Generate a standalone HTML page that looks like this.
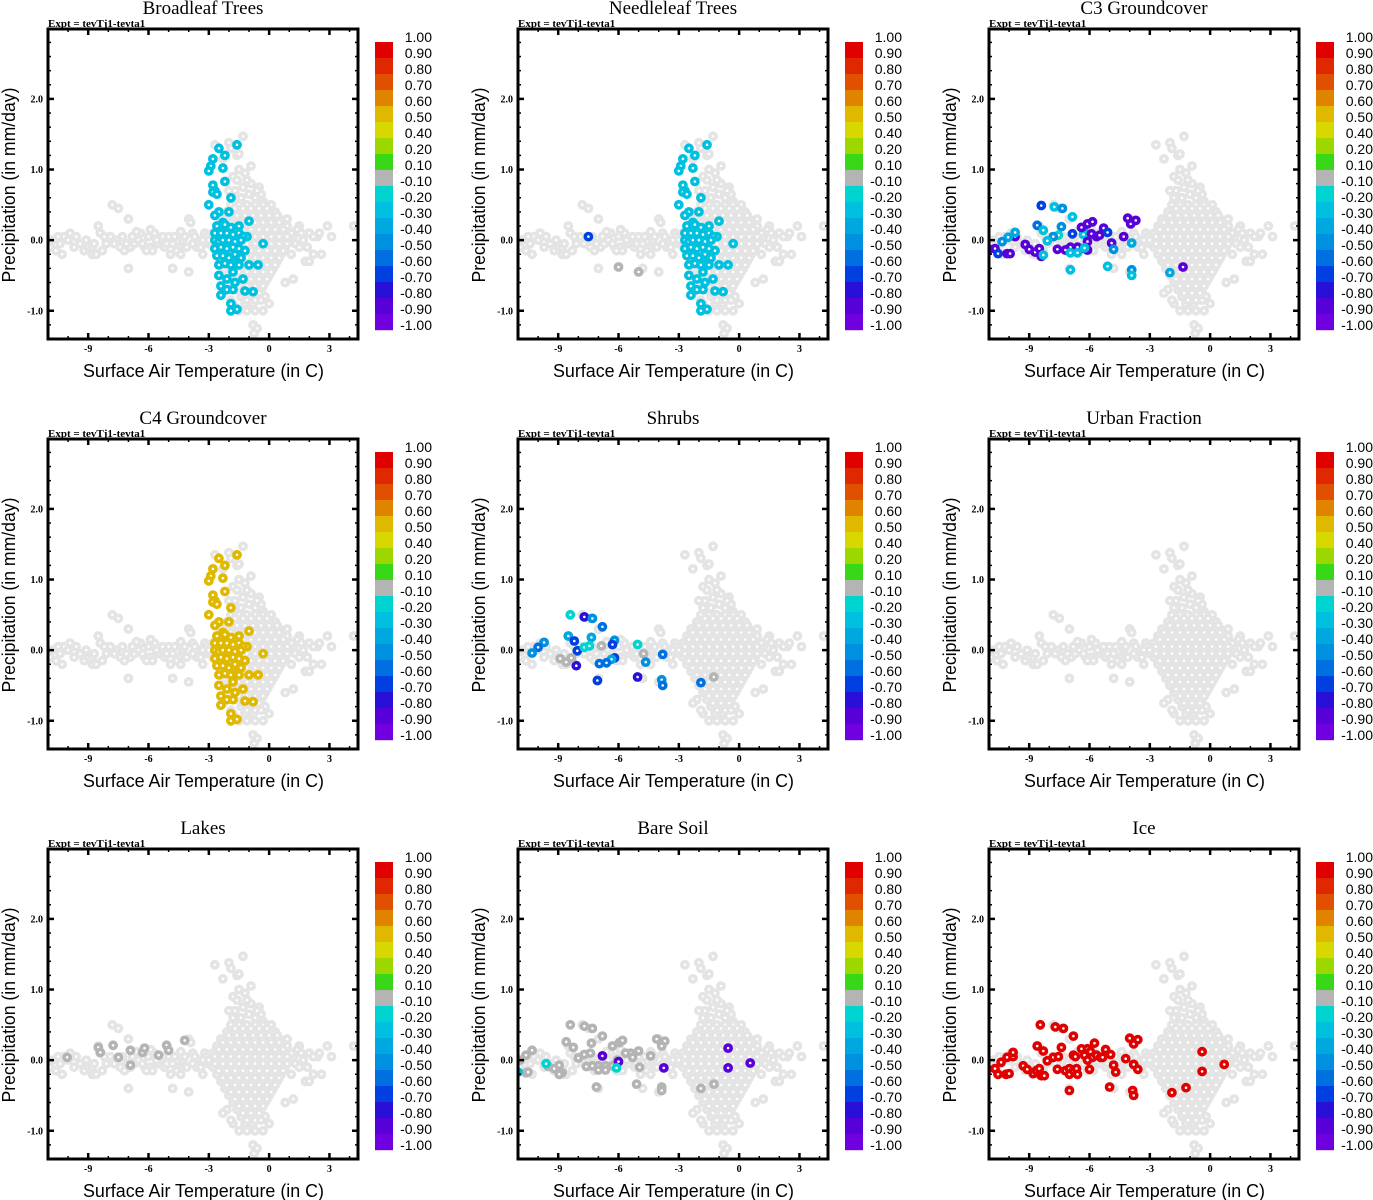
<!DOCTYPE html>
<html><head><meta charset="utf-8">
<style>
html,body{margin:0;padding:0;background:#fff;}
svg{display:block;}
</style></head>
<body>
<svg id="chart" width="1373" height="1200" viewBox="0 0 1373 1200" xmlns="http://www.w3.org/2000/svg"></svg>
<script>
// ---- data ----
const panelTitles = ["Broadleaf Trees","Needleleaf Trees","C3 Groundcover","C4 Groundcover","Shrubs","Urban Fraction","Lakes","Bare Soil","Ice"];
const xTickValues = [-9,-6,-3,0,3];
const xTickLabels = ["-9","-6","-3","0","3"];
const yTickValues = [-1,0,1,2];
const yTickLabels = ["-1.0","0.0","1.0","2.0"];
const cbarLabels = ["1.00","0.90","0.80","0.70","0.60","0.50","0.40","0.20","0.10","-0.10","-0.20","-0.30","-0.40","-0.50","-0.60","-0.70","-0.80","-0.90","-1.00"];
const cbarColors = ["#e00000","#e02800","#e05000","#e08400","#e0b800","#d8d800","#9cd800","#38d818","#b4b4b4","#00d4d0","#00c0e0","#00a8e0","#0090e0","#0070e0","#0040e0","#2810d8","#5800d8","#7000e0"];

// background cloud (temperature, precipitation)
const cloudPoints = [
[-10.9,-0.1],[-10.6,-0.15],[-10.4,-0.05],[-10.2,0.05],[-10.0,0.0],[-9.9,0.1],[-10.3,-0.2],[-9.7,-0.1],[-9.4,-0.05],[-9.2,-0.15],[-9.0,-0.1],[-8.8,-0.2],[-8.6,-0.2],[-8.5,0.2],[-8.4,0.1],[-8.3,-0.15],[-8.1,-0.05],[-7.9,0.05],[-7.8,0.5],[-7.6,0.0],[-7.5,0.45],[-7.4,-0.1],[-7.2,-0.15],[-7.0,-0.4],[-7.0,0.3],[-6.9,-0.1],[-6.7,-0.05],[-6.5,0.0],[-6.4,0.1],[-6.2,-0.1],[-6.0,0.05],[-5.9,-0.1],[-5.7,0.1],[-5.5,-0.05],[-5.4,0.0],[-5.2,-0.1],[-5.0,0.05],[-4.9,-0.2],[-4.8,-0.4],[-4.7,0.05],[-4.5,-0.1],[-4.3,0.0],[-4.1,-0.1],[-4.0,-0.45],[-4.0,0.3],[-3.9,0.25],[-3.8,0.1],[-3.6,-0.1],[-3.5,0.0],[-3.3,-0.2],[-3.2,0.1],[-3.0,-0.05],[-8.8,-0.1],[-6.6,0.12],[-5.8,-0.15],[-4.4,0.12],
[-10.8,0.0],[-10.5,0.05],[-9.6,0.05],[-9.1,0.0],[-8.7,-0.05],[-8.2,0.05],[-7.7,-0.05],[-7.3,0.05],[-7.1,-0.05],[-6.8,0.05],[-6.3,-0.05],[-6.1,-0.15],[-5.6,0.0],[-5.3,0.05],[-5.1,-0.05],[-4.8,-0.05],[-4.6,-0.15],[-4.2,0.05],[-3.8,-0.05],[-3.4,-0.1],[-3.1,0.05],[-3.3,0.0],[-3.7,0.05],[-4.4,-0.2],[-5.9,0.15],
[1.0,0.1],[1.3,-0.05],[1.5,0.2],[1.7,0.0],[2.0,0.1],[2.2,-0.2],[2.4,0.05],[2.6,-0.2],[2.9,0.2],[3.1,0.05],[4.2,0.2],[1.2,-0.55],[0.7,-0.1],[0.5,0.15],[1.8,-0.3],[2.0,-0.3],[1.4,0.15],[2.2,0.05],[1.9,-0.1],[1.2,0.05],[1.6,0.1],[2.5,0.1],[1.1,-0.2],[1.5,-0.1],[0.9,0.3],
[-1.3,1.47],[-2.0,1.38],[-1.9,1.3],[-2.3,1.15],[-1.6,1.2],[-1.5,1.22],[-1.5,1.0],[-0.9,1.05],[-1.8,0.9],[-1.2,0.95],[-0.9,0.8],[-0.5,0.75],[-0.4,0.65],[-0.3,0.55],[-1.6,0.85],[-1.3,0.75],[-1.0,0.65],[-0.7,0.6],[-2.7,1.35],[-1.7,0.7],[-1.4,0.6],[-0.6,0.7],[-1.1,0.85],[-2.0,0.7],[-1.8,0.6],
[-1.9,0.5],[-1.5,0.5],[-1.1,0.5],[-0.7,0.5],[-0.3,0.5],[0.1,0.5],
[-2.1,0.4],[-1.7,0.4],[-1.3,0.4],[-0.9,0.4],[-0.5,0.4],[-0.1,0.4],[0.3,0.4],
[-2.4,0.3],[-1.9,0.3],[-1.5,0.3],[-1.1,0.3],[-0.7,0.3],[-0.3,0.3],[0.1,0.3],[0.5,0.3],
[-2.6,0.2],[-2.2,0.2],[-1.8,0.2],[-1.4,0.2],[-1.0,0.2],[-0.6,0.2],[-0.2,0.2],[0.2,0.2],[0.6,0.2],[0.9,0.2],
[-2.8,0.1],[-2.4,0.1],[-2.0,0.1],[-1.6,0.1],[-1.2,0.1],[-0.8,0.1],[-0.4,0.1],[0.0,0.1],[0.4,0.1],[0.8,0.1],[1.1,0.1],
[-3.0,0.0],[-2.6,0.0],[-2.2,0.0],[-1.8,0.0],[-1.4,0.0],[-1.0,0.0],[-0.6,0.0],[-0.2,0.0],[0.2,0.0],[0.6,0.0],[1.0,0.0],
[-2.8,-0.1],[-2.4,-0.1],[-2.0,-0.1],[-1.6,-0.1],[-1.2,-0.1],[-0.8,-0.1],[-0.4,-0.1],[0.0,-0.1],[0.4,-0.1],[0.8,-0.1],
[-2.6,-0.2],[-2.2,-0.2],[-1.8,-0.2],[-1.4,-0.2],[-1.0,-0.2],[-0.6,-0.2],[-0.2,-0.2],[0.2,-0.2],[0.6,-0.2],
[-2.4,-0.3],[-2.0,-0.3],[-1.6,-0.3],[-1.2,-0.3],[-0.8,-0.3],[-0.4,-0.3],[0.0,-0.3],[0.4,-0.3],
[-2.2,-0.4],[-1.8,-0.4],[-1.4,-0.4],[-1.0,-0.4],[-0.6,-0.4],[-0.2,-0.4],[0.2,-0.4],
[-2.0,-0.5],[-1.6,-0.5],[-1.2,-0.5],[-0.8,-0.5],[-0.4,-0.5],[0.0,-0.5],
[-1.8,-0.6],[-1.4,-0.6],[-1.0,-0.6],[-0.6,-0.6],[-0.2,-0.6],[0.8,-0.6],
[-2.1,-0.7],[-1.6,-0.7],[-1.2,-0.7],[-0.8,-0.7],[-0.4,-0.7],
[-1.4,-0.8],[-1.0,-0.8],[-0.6,-0.8],[-0.2,-0.8],[-2.3,-0.75],
[-1.8,-0.9],[-1.2,-0.9],[-0.8,-0.9],[0.0,-0.9],[-1.9,-0.85],
[-1.5,-1.0],[-1.1,-1.0],[-0.7,-1.0],[-0.3,-1.0],
[-0.8,-1.2],[-0.6,-1.25],[-0.75,-1.32],
[-1.7,0.45],[-1.3,0.45],[-0.9,0.45],[-0.5,0.45],[-0.1,0.45],
[-2.0,0.35],[-1.6,0.35],[-1.2,0.35],[-0.8,0.35],[-0.4,0.35],[0.0,0.35],[0.4,0.35],
[-2.3,0.25],[-1.9,0.25],[-1.5,0.25],[-1.1,0.25],[-0.7,0.25],[-0.3,0.25],[0.1,0.25],[0.5,0.25],
[-2.5,0.15],[-2.1,0.15],[-1.7,0.15],[-1.3,0.15],[-0.9,0.15],[-0.5,0.15],[-0.1,0.15],[0.3,0.15],[0.7,0.15],
[-2.7,0.05],[-2.3,0.05],[-1.9,0.05],[-1.5,0.05],[-1.1,0.05],[-0.7,0.05],[-0.3,0.05],[0.1,0.05],[0.5,0.05],[0.9,0.05],
[-2.7,-0.05],[-2.3,-0.05],[-1.9,-0.05],[-1.5,-0.05],[-1.1,-0.05],[-0.7,-0.05],[-0.3,-0.05],[0.1,-0.05],[0.5,-0.05],[0.9,-0.05],
[-2.5,-0.15],[-2.1,-0.15],[-1.7,-0.15],[-1.3,-0.15],[-0.9,-0.15],[-0.5,-0.15],[-0.1,-0.15],[0.3,-0.15],[0.7,-0.15],
[-2.3,-0.25],[-1.9,-0.25],[-1.5,-0.25],[-1.1,-0.25],[-0.7,-0.25],[-0.3,-0.25],[0.1,-0.25],[0.5,-0.25],
[-2.1,-0.35],[-1.7,-0.35],[-1.3,-0.35],[-0.9,-0.35],[-0.5,-0.35],[-0.1,-0.35],[0.3,-0.35],
[-1.9,-0.45],[-1.5,-0.45],[-1.1,-0.45],[-0.7,-0.45],[-0.3,-0.45],[0.1,-0.45],
[-1.7,-0.55],[-1.3,-0.55],[-0.9,-0.55],[-0.5,-0.55],[-0.1,-0.55],
[-1.5,-0.65],[-1.1,-0.65],[-0.7,-0.65],[-0.3,-0.65],
[-1.3,-0.75],[-0.9,-0.75],[-0.5,-0.75],[-1.1,-0.85],[-0.7,-0.85],[-0.4,-0.85]
];

const broadleafPoints = [
[-2.5,1.3,10],[-1.6,1.35,10],[-2.2,1.2,10],[-2.8,1.15,10],[-2.9,1.05,10],[-3.0,0.98,10],[-2.3,1.02,10],[-2.2,0.83,10],[-2.8,0.78,10],[-2.7,0.7,10],[-2.8,0.68,10],[-2.6,0.65,10],[-1.9,0.6,10],[-3.0,0.5,10],[-2.0,0.4,10],[-2.5,0.4,10],[-2.7,0.35,10],[-2.3,0.25,10],[-1.0,0.27,10],[-1.1,0.05,10],[-0.3,-0.05,10],[-1.2,-0.15,10],
[-2.6,0.2,10],[-2.2,0.22,10],[-1.9,0.18,10],[-1.5,0.2,10],[-2.7,0.1,10],[-2.4,0.1,10],[-2.1,0.1,10],[-1.8,0.08,10],[-1.5,0.1,10],[-1.3,0.05,10],
[-2.7,0.0,10],[-2.5,-0.02,10],[-2.3,0.0,10],[-2.0,0.0,10],[-1.7,-0.02,10],[-1.4,0.0,10],
[-2.7,-0.12,10],[-2.4,-0.1,10],[-2.1,-0.12,10],[-1.8,-0.1,10],[-1.5,-0.12,10],
[-2.6,-0.22,10],[-2.3,-0.22,10],[-2.0,-0.25,10],[-1.7,-0.2,10],[-1.4,-0.25,10],
[-2.5,-0.35,10],[-2.2,-0.33,10],[-1.9,-0.35,10],[-1.6,-0.32,10],
[-1.5,-0.35,10],[-1.0,-0.35,10],[-0.55,-0.35,10],[-2.5,-0.5,10],[-1.8,-0.45,10],[-1.3,-0.55,10],[-2.1,-0.55,10],[-2.4,-0.65,10],[-2.1,-0.7,10],[-1.8,-0.7,10],[-2.4,-0.78,10],[-1.2,-0.72,10],[-0.8,-0.73,10],[-1.9,-0.9,10],[-1.6,-0.98,10],[-1.9,-1.0,10],[-1.7,-0.6,10]
];
const needleleafPoints = broadleafPoints.concat([[-7.5,0.05,14],[-6.0,-0.38,8],[-5.0,-0.45,8]]);
const c4Points = broadleafPoints.map(p => [p[0],p[1],4]);
const c3Points = [
[-8.4,0.49,14],[-7.75,0.47,10],[-7.35,0.45,12],[-6.85,0.33,10],[-8.6,0.21,13],[-7.4,0.19,12],[-8.3,0.14,10],[-7.55,0.07,9],[-7.8,0.05,12],[-8.1,-0.01,10],[-6.85,0.09,14],[-6.3,0.14,11],[-6.3,0.08,10],[-6.4,0.18,16],[-6.1,0.23,16],[-5.85,0.26,16],[-5.9,0.09,16],[-5.65,0.05,16],[-5.5,0.07,16],[-5.3,0.17,16],[-5.1,0.11,14],[-4.1,0.31,16],[-3.95,0.23,16],[-3.7,0.28,16],[-4.3,0.05,16],[-4.9,-0.04,16],[-4.8,-0.13,12],[-3.9,-0.04,11],[-6.1,-0.02,16],[-6.1,-0.14,16],[-6.4,-0.12,16],[-6.6,-0.1,16],[-6.95,-0.1,16],[-7.2,-0.14,16],[-7.6,-0.13,16],[-6.25,-0.11,10],[-6.6,-0.18,10],[-6.95,-0.18,10],[-9.2,-0.06,16],[-9.0,-0.13,16],[-8.7,-0.17,16],[-8.5,-0.12,16],[-8.4,-0.23,16],[-8.3,-0.21,10],[-9.7,0.05,16],[-9.7,0.11,11],[-10.05,0.04,11],[-10.35,-0.02,12],[-10.7,-0.12,16],[-11.0,-0.13,16],[-10.55,-0.19,14],[-10.1,-0.19,16],[-9.95,-0.19,16],[-6.95,-0.42,10],[-5.1,-0.37,10],[-3.9,-0.42,12],[-3.9,-0.5,10],[-2.0,-0.46,11],[-1.35,-0.38,16]
];
const shrubPoints = [
[-8.4,0.5,9],[-7.7,0.47,15],[-7.3,0.45,12],[-6.8,0.33,13],[-8.5,0.2,11],[-8.2,0.13,14],[-7.35,0.18,11],[-6.2,0.14,12],[-6.3,0.08,14],[-9.7,0.11,12],[-10.0,0.04,13],[-10.3,-0.04,12],[-8.05,-0.01,14],[-7.7,0.04,9],[-7.45,0.06,9],[-6.85,0.06,8],[-5.05,0.08,9],[-6.2,-0.11,14],[-6.35,-0.13,11],[-6.6,-0.18,13],[-6.95,-0.19,13],[-4.75,-0.05,8],[-4.65,-0.17,12],[-3.8,-0.06,13],[-8.1,-0.22,15],[-8.9,-0.12,8],[-8.6,-0.17,8],[-8.35,-0.11,8],[-7.05,-0.43,14],[-5.05,-0.38,15],[-3.85,-0.42,12],[-3.8,-0.5,13],[-1.9,-0.46,13],[-1.26,-0.38,8]
];
const urbanPoints = [];
const lakePoints = [
[-10.05,0.04,8],[-8.5,0.18,8],[-8.4,0.11,8],[-7.76,0.21,8],[-7.5,0.04,8],[-6.9,-0.07,8],[-6.9,0.14,8],[-6.3,0.11,8],[-6.2,0.17,8],[-5.5,0.07,8],[-5.1,0.21,8],[-5.0,0.14,8],[-4.2,0.28,8]
];
const bareSoilPoints = [
[-8.4,0.5,8],[-7.7,0.48,8],[-7.3,0.45,8],[-6.8,0.34,8],[-8.6,0.26,8],[-8.25,0.18,8],[-7.35,0.24,8],[-6.3,0.2,8],[-5.95,0.25,8],[-5.8,0.28,8],[-4.1,0.3,8],[-3.7,0.27,8],[-3.85,0.2,8],[-5.0,0.13,8],[-5.4,0.1,8],[-5.65,0.1,8],[-5.3,0.04,8],[-7.7,0.08,8],[-7.4,0.1,8],[-8.0,0.03,8],[-10.3,0.14,8],[-10.6,0.07,8],[-10.9,0.0,8],[-11.2,-0.06,8],[-10.6,-0.18,8],[-10.5,-0.17,8],[-9.5,-0.09,8],[-9.2,-0.12,8],[-8.95,-0.07,8],[-8.8,-0.18,8],[-8.95,-0.2,8],[-7.6,-0.09,8],[-7.3,-0.08,8],[-7.0,-0.08,8],[-6.65,-0.08,8],[-6.3,-0.08,8],[-7.0,-0.14,8],[-6.65,-0.14,8],[-6.05,0.0,8],[-4.95,-0.1,8],[-4.4,0.06,8],[-7.1,-0.38,8],[-5.1,-0.34,8],[-3.85,-0.38,8],[-3.85,-0.43,8],[-1.9,-0.4,8],[-1.25,-0.34,8],
[-6.8,0.06,16],[-6.0,-0.02,16],[-3.75,-0.11,16],[-0.55,0.17,16],[-0.55,-0.11,16],[0.55,-0.04,16],
[-11.0,-0.17,10],[-9.6,-0.05,9],[-6.1,-0.11,9]
];
const icePoints = [
[-11.08,-0.13,0],[-10.7,-0.12,0],[-10.55,-0.2,0],[-10.4,-0.03,0],[-10.15,-0.2,0],[-10.0,-0.19,0],[-10.1,0.04,0],[-9.8,0.05,0],[-9.8,0.11,0],[-9.3,-0.08,0],[-9.1,-0.13,0],[-8.8,-0.19,0],[-8.65,-0.15,0],[-8.5,-0.12,0],[-8.4,-0.22,0],[-8.25,-0.22,0],[-8.6,0.2,0],[-8.3,0.13,0],[-8.45,0.5,0],[-8.1,-0.01,0],[-7.7,0.47,0],[-7.3,0.45,0],[-7.8,0.04,0],[-7.55,0.05,0],[-7.4,0.18,0],[-7.6,-0.13,0],[-7.2,-0.15,0],[-7.0,-0.12,0],[-7.0,-0.2,0],[-6.8,-0.15,0],[-6.65,-0.12,0],[-6.6,-0.2,0],[-7.0,-0.43,0],[-6.8,0.34,0],[-6.8,0.07,0],[-6.7,0.05,0],[-6.4,0.16,0],[-6.25,0.07,0],[-6.1,0.16,0],[-5.75,0.24,0],[-5.95,0.12,0],[-5.85,0.04,0],[-6.1,0.0,0],[-6.0,-0.13,0],[-5.65,0.07,0],[-5.45,0.04,0],[-5.35,0.04,0],[-5.2,0.15,0],[-4.95,0.08,0],[-5.0,-0.38,0],[-4.8,-0.07,0],[-4.7,-0.17,0],[-4.2,0.02,0],[-4.0,0.31,0],[-3.8,0.23,0],[-3.6,0.29,0],[-3.8,-0.06,0],[-3.6,-0.13,0],[-3.85,-0.43,0],[-3.8,-0.5,0],[-1.9,-0.46,0],[-1.2,-0.39,0],[-0.4,0.12,0],[-0.4,-0.16,0],[0.7,-0.06,0]
];
const panelPoints = [broadleafPoints,needleleafPoints,c3Points,c4Points,shrubPoints,urbanPoints,lakePoints,bareSoilPoints,icePoints];

// ---- drawing ----
const NS = "http://www.w3.org/2000/svg";
const svg = document.getElementById("chart");
const X0=48, X1=358, Y0=29, Y1=339;
const xDom=[-11.0,4.42], yDom=[-1.4,2.99];
const colOff=[0,470,941], rowOff=[0,410,820];
function xScale(v){return X0+(v-xDom[0])/(xDom[1]-xDom[0])*(X1-X0);}
function yScale(v){return Y1-(v-yDom[0])/(yDom[1]-yDom[0])*(Y1-Y0);}
function mk(tag,attrs,parent){const e=document.createElementNS(NS,tag);for(const k in attrs)e.setAttribute(k,attrs[k]);parent.appendChild(e);return e;}
const SERIF='"Liberation Serif", serif', SANS='"Liberation Sans", sans-serif';
const defs=mk("defs",{},svg);
const cp=mk("clipPath",{id:"plotclip"},defs);
mk("rect",{x:X0,y:Y0,width:X1-X0,height:Y1-Y0},cp);
function dot(g,x,y,color){
  return mk("circle",{cx:xScale(x).toFixed(1),cy:yScale(y).toFixed(1),r:3.1,fill:"#fff",stroke:color,"stroke-width":3.6},g);
}
panelTitles.forEach((title,i)=>{
  const col=i%3,row=Math.floor(i/3);
  const g=mk("g",{transform:`translate(${colOff[col]},${rowOff[row]})`},svg);
  
  
  const t=mk("text",{x:(X0+X1)/2,y:14,"text-anchor":"middle","font-family":SERIF,"font-size":19},g);
  t.textContent=title;
  
  
  const ex=mk("text",{x:X0,y:27,"font-family":SERIF,"font-size":11,"font-weight":"bold"},g);
  ex.textContent="Expt = tevTj1-tevta1";
  
  
  const pg=mk("g",{"clip-path":"url(#plotclip)"},g);
  
  
  cloudPoints.forEach(p=>{const c=dot(pg,p[0],p[1],"#e4e4e4");
    
    });
  panelPoints[i].forEach(p=>{const c=dot(pg,p[0],p[1],cbarColors[p[2]]);
    
    });
  const fr=mk("rect",{x:X0,y:Y0,width:X1-X0,height:Y1-Y0,fill:"none",stroke:"#000","stroke-width":3},g);
  
  
  for(let v=-10;v<=4;v++){
    const major=xTickValues.indexOf(v)>=0;const L=major?6:3;const x=xScale(v);
    mk("line",{x1:x,x2:x,y1:Y1,y2:Y1-L,stroke:"#000","stroke-width":major?2.5:1.5},g);
    mk("line",{x1:x,x2:x,y1:Y0,y2:Y0+L,stroke:"#000","stroke-width":major?2.5:1.5},g);
  }
  xTickValues.forEach((v,k)=>{const tl=mk("text",{x:xScale(v),y:352,"text-anchor":"middle","font-family":SERIF,"font-size":10,"font-weight":"bold"},g);
    tl.textContent=xTickLabels[k];
    
    });
  for(let k=-7;k<=14;k++){
    const v=k*0.2;const major=(k%5===0);const L=major?6:3;const y=yScale(v);
    mk("line",{x1:X0,x2:X0+L,y1:y,y2:y,stroke:"#000","stroke-width":major?2.5:1.5},g);
    mk("line",{x1:X1,x2:X1-L,y1:y,y2:y,stroke:"#000","stroke-width":major?2.5:1.5},g);
  }
  yTickValues.forEach((v,k)=>{const tl=mk("text",{x:43,y:yScale(v)+3.5,"text-anchor":"end","font-family":SERIF,"font-size":10,"font-weight":"bold"},g);
    tl.textContent=yTickLabels[k];
    
    });
  const xt=mk("text",{x:(X0+X1)/2+0.5,y:377,"text-anchor":"middle","font-family":SANS,"font-size":18,"textLength":241,"lengthAdjust":"spacingAndGlyphs"},g);
  xt.textContent="Surface Air Temperature (in C)";
  
  
  const yt=mk("text",{x:0,y:0,"text-anchor":"middle","font-family":SANS,"font-size":18,"textLength":195,"lengthAdjust":"spacingAndGlyphs",transform:`translate(15,${(Y0+Y1)/2+1}) rotate(-90)`},g);
  yt.textContent="Precipitation (in mm/day)";
  
  
  const cb=mk("g",{},g);
  
  
  cbarColors.forEach((c,k)=>{const r=mk("rect",{x:375,y:42+k*16,width:18,height:16.2,fill:c},cb);
    
    });
  cbarLabels.forEach((s,k)=>{const tl=mk("text",{x:432,y:42+k*16,"text-anchor":"end","font-family":SANS,"font-size":14},cb);
    tl.textContent=s;
    
    });
});
</script>
</body></html>
